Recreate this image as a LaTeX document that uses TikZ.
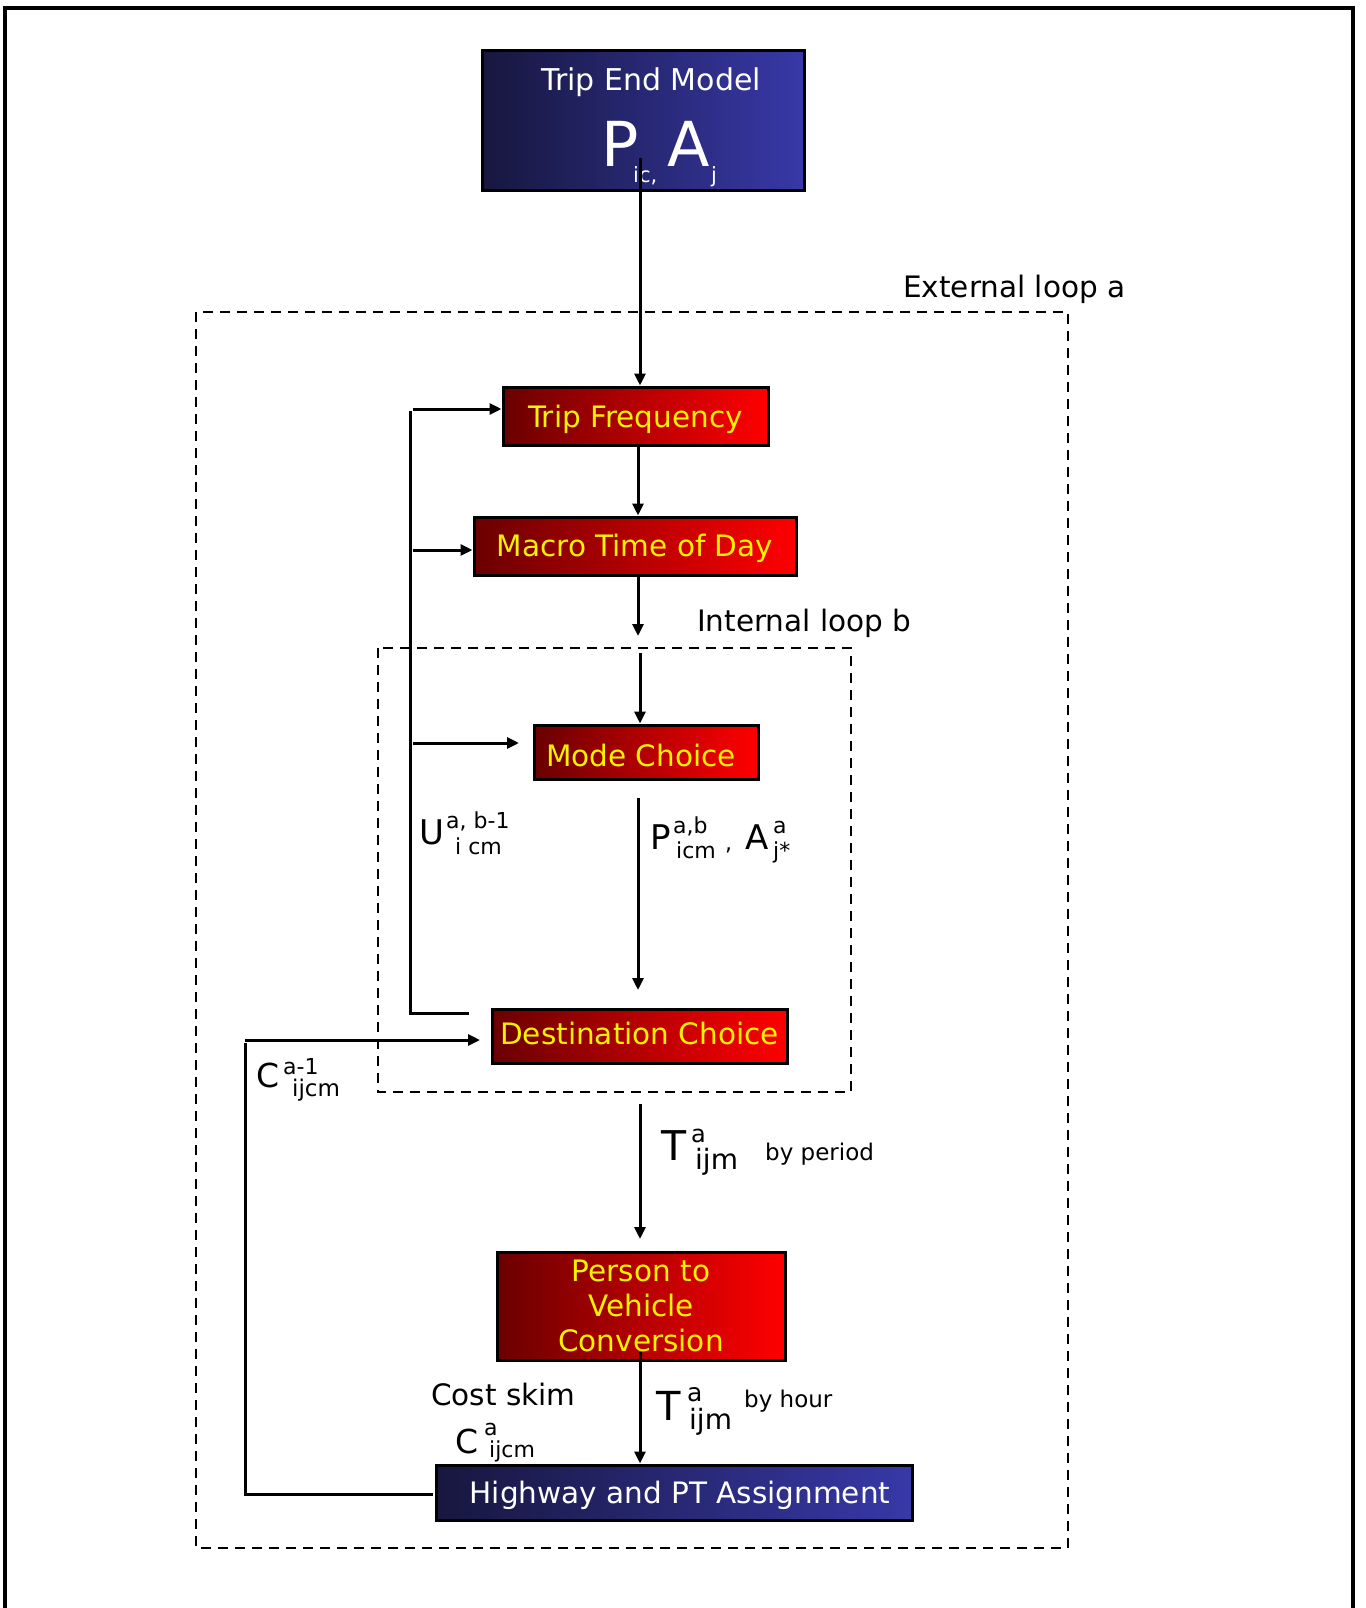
\documentclass[tikz,border=0pt]{standalone}
\usepackage{fontspec}
\setmainfont{DejaVu Sans}
\usetikzlibrary{arrows.meta}
\definecolor{rdL}{HTML}{6A0000}
\definecolor{rdR}{HTML}{FF0000}
\definecolor{nvL}{HTML}{17173F}
\definecolor{nvR}{HTML}{3838A8}
\newcommand{\fs}[1]{\fontsize{#1}{#1}\selectfont}
\begin{document}
\begin{tikzpicture}[x=1pt,y=-1pt,
  boxfont/.style={font=\fontsize{29.5}{35}\selectfont},
  oneline/.style={text height=#1, text depth=0pt},
  oneline/.default=21.5pt,
  redbox/.style={draw=black, line width=3pt, left color=rdL, right color=rdR, text=yellow, inner sep=0pt, boxfont},
  navybox/.style={draw=black, line width=3pt, left color=nvL, right color=nvR, text=white, inner sep=0pt, boxfont},
  arr/.style={line width=3pt, -{Triangle[length=12pt,width=11pt]}},
  conn/.style={line width=3pt},
  dashbox/.style={line width=2.8pt, dash pattern=on 10pt off 7pt},
  lbl/.style={inner sep=0pt, anchor=base west}]
\useasboundingbox (0,0) rectangle (1365,1608);
% outer frame (open at the bottom)
\draw[line width=3.5pt] (5,1608) -- (5,8) -- (1353,8) -- (1353,1608);
% dashed loops
\draw[dashbox] (196,312) rectangle (1068,1548);
\draw[dashbox] (378,648) rectangle (851,1092);
% boxes
\node[navybox, minimum width=322pt, minimum height=140pt] (tem) at (643,121) {};
\node[inner sep=0pt, text=white, font=\fs{30}] (temt) at (651,82) {Trip End Model};
\node[lbl, text=white, font=\fs{62}] (temP) at (601,167) {P};
\node[lbl, text=white, font=\fs{21}] (temPs) at (633,183) {ic,};
\node[lbl, text=white, font=\fs{62}] (temA) at (667,167) {A};
\node[lbl, text=white, font=\fs{21}] (temAs) at (711,183) {j};
\node[redbox, oneline=23pt, minimum width=265pt, minimum height=58pt] (tf) at (635.5,416) {Trip Frequency};
\node[redbox, oneline, minimum width=322pt, minimum height=58pt] (mtd) at (635,546) {Macro Time of Day};
\node[redbox, oneline=29.5pt, minimum width=224pt, minimum height=54pt] (mc) at (646,752) {\hspace*{-10pt}Mode Choice};
\node[redbox, oneline=17.5pt, minimum width=295pt, minimum height=54pt] (dc) at (639.5,1036) {Destination Choice};
\node[redbox, minimum width=288pt, minimum height=108pt, align=center] (pv) at (641,1306) {Person to\\Vehicle\\Conversion};
\node[navybox, oneline, minimum width=476pt, minimum height=55pt] (hpt) at (674,1492.5) {\hspace*{12pt}Highway and PT Assignment};
% loop labels
\node[lbl, font=\fs{29.5}] (extl) at (903,297) {External loop a};
\node[lbl, font=\fs{29.5}] (intl) at (697,631) {Internal loop b};
% main chain
\coordinate (temout) at (640,158);
\draw[arr] (temout) -- (temout |- tf.north);
\draw[arr] ([xshift=2.5pt]tf.south) -- ([xshift=2.5pt]tf.south |- mtd.north);
\coordinate (ibin) at (638,636);
\draw[arr] ([xshift=3pt]mtd.south) -- (ibin);
\coordinate (ibin2) at (640,653);
\draw[arr] (ibin2) -- (ibin2 |- mc.north);
\coordinate (mcout) at (638,798);
\coordinate (dcin) at (638,990);
\draw[arr] (mcout) -- (dcin);
\coordinate (dcout) at (640,1104);
\coordinate (pvin) at (640,1239);
\draw[arr] (dcout) -- (pvin);
\coordinate (pvout) at (640,1352);
\draw[arr] (pvout) -- (pvout |- hpt.north);
% U feedback
\coordinate (ufoot) at (469,1013);
\coordinate (utop) at (410,411);
\draw[conn] (ufoot) -- (ufoot -| utop) -- (utop);
\coordinate (ua) at (413,409);
\draw[arr] (ua) -- (ua -| tf.west);
\coordinate (ub) at (413,550);
\draw[arr] (ub) -- (ub -| mtd.west);
\coordinate (uc) at (413,743);
\coordinate (ucend) at (519,743);
\draw[arr] (uc) -- (ucend);
% C feedback
\coordinate (cbot) at (245,1494);
\coordinate (cvt) at (245,1043);
\draw[conn] ([xshift=-1.5pt]hpt.west |- cbot) -- (cbot) -- (cvt);
\coordinate (ca) at (245,1040);
\coordinate (caend) at (480,1040);
\draw[arr] (ca) -- (caend);
% U label
\node[lbl, font=\fs{34}] (uU) at (419,844) {U};
\node[lbl, font=\fs{22}] (uUsup) at (446,828) {a, b-1};
\node[lbl, font=\fs{22}] (uUsub) at (455,854) {i cm};
% P, A label
\node[lbl, font=\fs{34}] (pP) at (650,849) {P};
\node[lbl, font=\fs{22}] (pPsup) at (673,833) {a,b};
\node[lbl, font=\fs{22}] (pPsub) at (676,858) {icm};
\node[lbl, font=\fs{22}] (pcomma) at (725,850) {,};
\node[lbl, font=\fs{34}] (pA) at (745,849) {A};
\node[lbl, font=\fs{22}] (pAsup) at (773,833) {a};
\node[lbl, font=\fs{22}] (pAsub) at (773,858) {j*};
% C a-1 label
\node[lbl, font=\fs{33}] (cU) at (256,1087) {C};
\node[lbl, font=\fs{22}] (cUsup) at (283,1074) {a-1};
\node[lbl, font=\fs{23}] (cUsub) at (292,1096) {ijcm};
% T by period
\node[lbl, font=\fs{41}] (tP) at (661,1160) {T};
\node[lbl, font=\fs{24}] (tPsup) at (691,1142) {a};
\node[lbl, font=\fs{28}] (tPsub) at (695,1169) {ijm};
\node[lbl, font=\fs{23}] (tPby) at (765,1160) {by period};
% Cost skim
\node[lbl, font=\fs{29.5}] (cs) at (431,1405) {Cost skim};
\node[lbl, font=\fs{33}] (cLo) at (455,1453) {C};
\node[lbl, font=\fs{22}] (cLosup) at (484,1435) {a};
\node[lbl, font=\fs{22}] (cLosub) at (489,1457) {ijcm};
% T by hour
\node[lbl, font=\fs{40}] (tH) at (656,1420) {T};
\node[lbl, font=\fs{25}] (tHsup) at (687,1401) {a};
\node[lbl, font=\fs{28}] (tHsub) at (689,1429) {ijm};
\node[lbl, font=\fs{23}] (tHby) at (744,1407) {by hour};
\end{tikzpicture}
\end{document}
